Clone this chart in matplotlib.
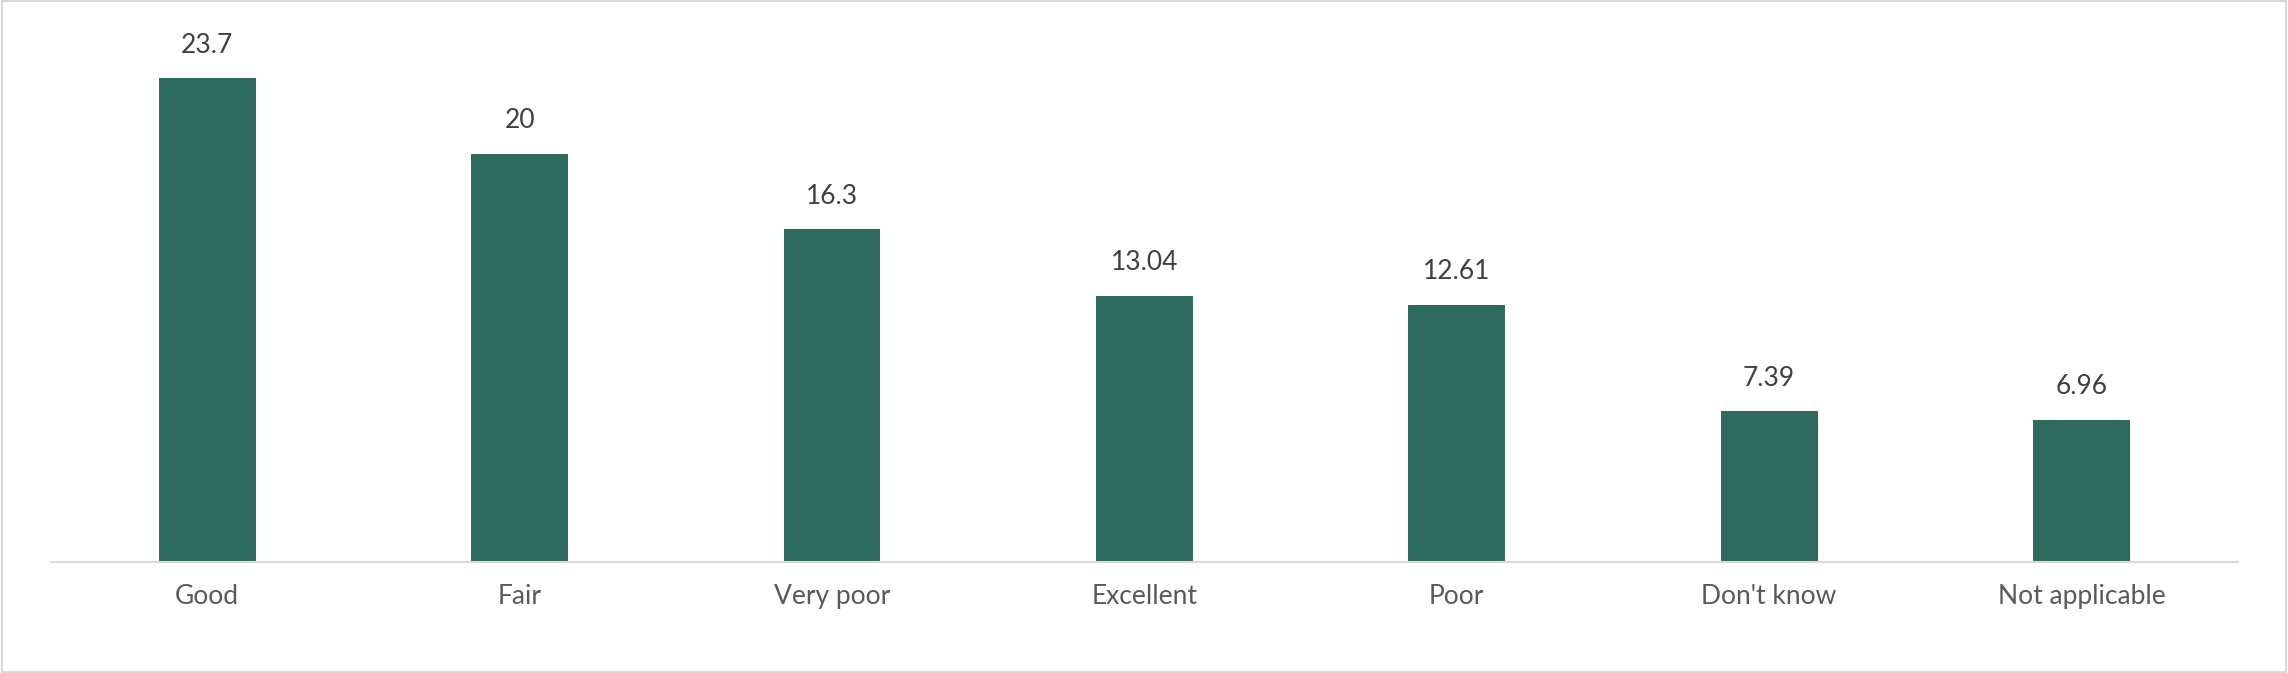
import matplotlib
matplotlib.use("Agg")
import matplotlib.pyplot as plt
from matplotlib.patches import Rectangle

categories = ["Good", "Fair", "Very poor", "Excellent", "Poor", "Don't know", "Not applicable"]
values = [23.7, 20, 16.3, 13.04, 12.61, 7.39, 6.96]
labels = ["23.7", "20", "16.3", "13.04", "12.61", "7.39", "6.96"]

plt.rcParams['font.family'] = ['Lato', 'DejaVu Sans']
fig = plt.figure(figsize=(22.88, 6.73), dpi=100)
ax = fig.add_axes([0.0223, 0.165, 0.9557, 0.813])
x = range(len(categories))
ax.bar(x, values, width=0.31, color="#2E6B5E")
for i, (v, t) in enumerate(zip(values, labels)):
    ax.text(i, v + 1.0, t, ha="center", va="bottom", fontsize=19, color="#404040")
ax.set_xlim(-0.5, len(categories) - 0.5)
ax.set_ylim(0, 26.8)
ax.set_yticks([])
ax.set_xticks(list(x))
ax.set_xticklabels(categories, fontsize=19, color="#595959")
ax.tick_params(axis="x", length=0, pad=16)
for s in ["top", "left", "right"]:
    ax.spines[s].set_visible(False)
ax.spines["bottom"].set_color("#D9D9D9")
ax.spines["bottom"].set_linewidth(1.5)
fig.patches.append(Rectangle((0.001, 0.002), 0.998, 0.996, transform=fig.transFigure,
                             fill=False, edgecolor="#D9D9D9", linewidth=1.5))
fig.savefig("out.png", dpi=100)
